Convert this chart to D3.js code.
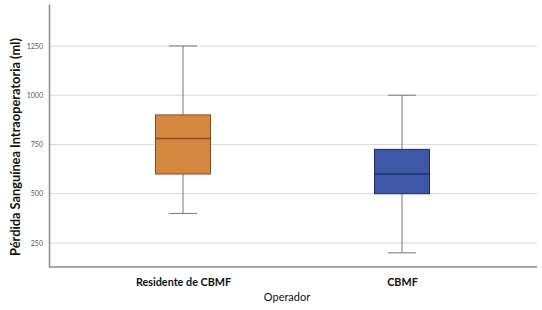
<!DOCTYPE html>
<html><head><meta charset="utf-8">
<script src="https://cdn.jsdelivr.net/npm/d3@7/dist/d3.min.js"></script>
<style>body{margin:0;background:#fff;}svg{display:block;}</style>
</head><body>
<svg id="c" width="542" height="310"></svg>
<script>
const categories = ["Residente de CBMF", "CBMF"];
const whiskerLow = [400, 200];
const q1 = [600, 500];
const median = [780, 600];
const q3 = [900, 725];
const whiskerHigh = [1250, 1000];
const yTicks = [250, 500, 750, 1000, 1250];
const fills = ["#D4883F", "#3E57A8"];
const strokes = ["#8A4B1C", "#1E2C66"];

const svg = d3.select("#c");
const mLeft = 49, mRight = 537, mTop = 4, mBottom = 267;
const y = d3.scaleLinear().domain([128, 1463]).range([mBottom, mTop]);
const x = d3.scalePoint().domain(categories).range([183, 402]);
const font = "'Century Gothic', Lato, 'DejaVu Sans', sans-serif";

// gridlines
svg.append("g").selectAll("line").data(yTicks).join("line")
  .attr("x1", mLeft).attr("x2", mRight)
  .attr("y1", d => y(d)).attr("y2", d => y(d))
  .attr("stroke", "#d9d9d9").attr("stroke-width", 1);

// y axis
const ya = svg.append("g").attr("transform", `translate(${mLeft},0)`)
  .call(d3.axisLeft(y).tickValues(yTicks).tickFormat(d3.format("d")).tickSize(0).tickPadding(6));
ya.select(".domain").attr("stroke", "#8c8c8c").attr("stroke-width", 1.5);
ya.selectAll("text").attr("font-family", font).attr("font-size", 7).attr("fill", "#555");

// x axis
const xa = svg.append("g").attr("transform", `translate(0,${mBottom})`)
  .call(d3.axisBottom(x).tickSize(0).tickPadding(11));
xa.select(".domain").attr("d", `M${mLeft},0H${mRight}`).attr("stroke", "#8c8c8c").attr("stroke-width", 1.5);
xa.selectAll("text").attr("font-family", font).attr("font-size", 10.8).attr("font-weight", "bold").attr("fill", "#111");

const bw = 55, cap = 28;
const g = svg.append("g").selectAll("g").data(categories).join("g");
// whiskers
g.append("line").attr("x1", d => x(d)).attr("x2", d => x(d))
  .attr("y1", (d,i) => y(whiskerHigh[i])).attr("y2", (d,i) => y(whiskerLow[i]))
  .attr("stroke", "#777").attr("stroke-width", 1);
g.append("line").attr("x1", d => x(d) - cap/2).attr("x2", d => x(d) + cap/2)
  .attr("y1", (d,i) => y(whiskerHigh[i])).attr("y2", (d,i) => y(whiskerHigh[i]))
  .attr("stroke", "#777").attr("stroke-width", 1);
g.append("line").attr("x1", d => x(d) - cap/2).attr("x2", d => x(d) + cap/2)
  .attr("y1", (d,i) => y(whiskerLow[i])).attr("y2", (d,i) => y(whiskerLow[i]))
  .attr("stroke", "#777").attr("stroke-width", 1);
// box
g.append("rect").attr("x", d => x(d) - bw/2).attr("width", bw)
  .attr("y", (d,i) => y(q3[i])).attr("height", (d,i) => y(q1[i]) - y(q3[i]))
  .attr("fill", (d,i) => fills[i]).attr("stroke", (d,i) => strokes[i]).attr("stroke-width", 1);
g.append("line").attr("x1", d => x(d) - bw/2).attr("x2", d => x(d) + bw/2)
  .attr("y1", (d,i) => y(median[i])).attr("y2", (d,i) => y(median[i]))
  .attr("stroke", (d,i) => strokes[i]).attr("stroke-width", 1.5);

// titles
svg.append("text").attr("transform", `translate(20,${147}) rotate(-90)`)
  .attr("text-anchor", "middle").attr("font-family", font).attr("font-size", 12.8)
  .attr("font-weight", "bold").attr("fill", "#111").text("Pérdida Sanguínea Intraoperatoria (ml)");
svg.append("text").attr("x", 287).attr("y", 301).attr("text-anchor", "middle")
  .attr("font-family", font).attr("font-size", 11).attr("fill", "#111").text("Operador");
</script>
</body></html>
